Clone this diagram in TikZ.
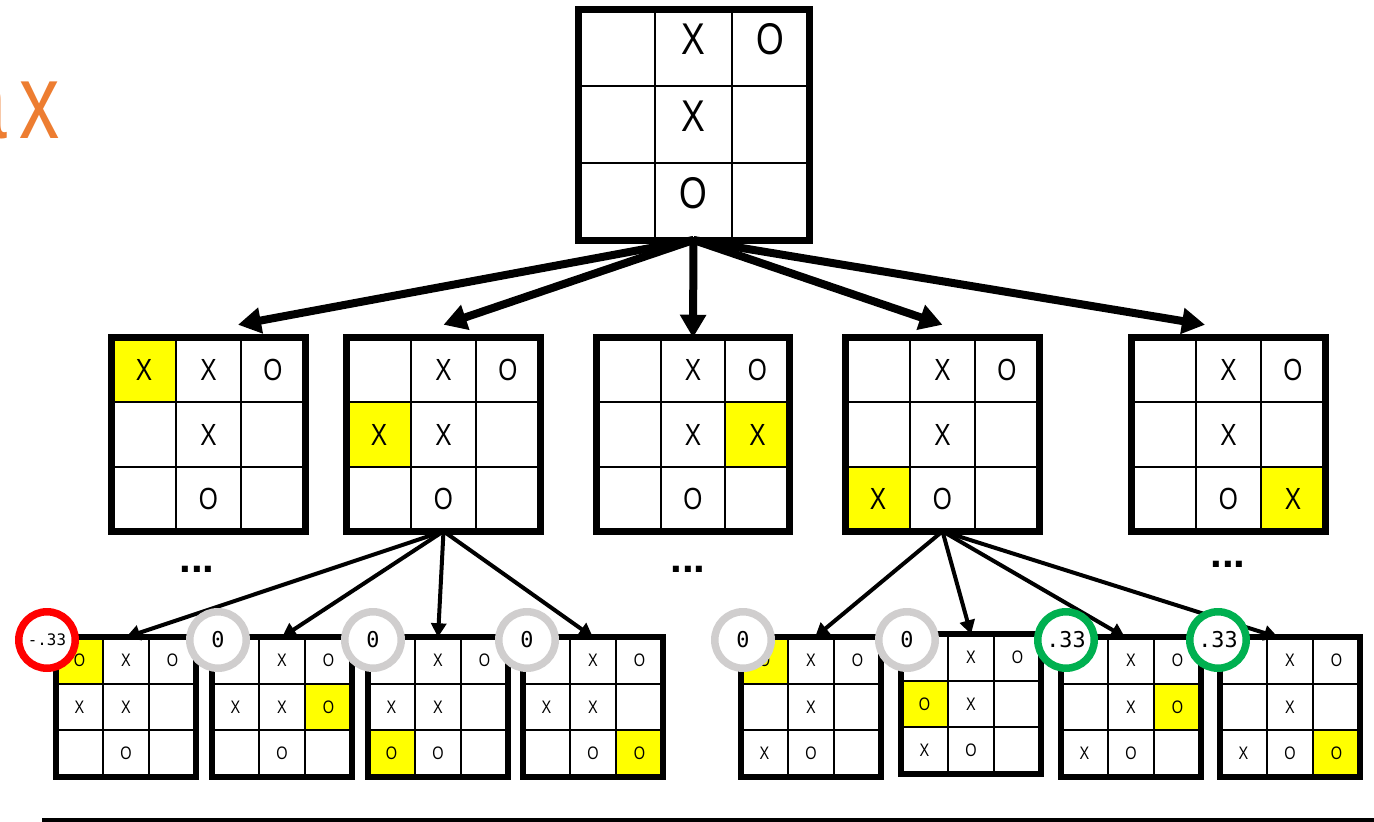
\documentclass[tikz,border=0pt]{standalone}
\usepackage{fontspec}
\setmainfont{Liberation Sans}
\newfontfamily\boardfont[FakeStretch=0.8]{Liberation Sans}
\newfontfamily\titlefont[FakeStretch=0.75]{Liberation Sans}
\newfontfamily\scorefont{DejaVu Sans Mono}
\usetikzlibrary{arrows.meta}
\definecolor{hlyellow}{HTML}{FFFF00}
\definecolor{titleorange}{HTML}{ED7D31}
\definecolor{lossred}{HTML}{FF0000}
\definecolor{drawgray}{HTML}{D0CECE}
\definecolor{wingreen}{HTML}{00B050}

% #1 name, #2 centre, #3 cell (px), #4 cell style, #5 frame style, #6 col/row/mark/style
\newcommand{\tttboard}[6]{%
	\begin{scope}[shift={(#2)}, scale=#3]
		\foreach \c/\r/\m/\s in {#6}
			\node[#4, \s] at (\c,\r) {\m};
		\draw[gridline] (-1.5,-0.5) -- (1.5,-0.5) (-1.5,0.5) -- (1.5,0.5)
			(-0.5,-1.5) -- (-0.5,1.5) (0.5,-1.5) -- (0.5,1.5);
	\end{scope}
	\node[#5, minimum size=3*#3*0.02cm] (#1) at (#2) {};
}

\begin{document}
\begin{tikzpicture}[x=0.02cm, y=-0.02cm,
	hl/.style={fill=hlyellow}, nohl/.style={},
	cellbig/.style={minimum size=1.54cm, inner sep=0pt, yshift=0.16cm, font=\boardfont\fontsize{25.3}{30}\selectfont},
	cellmid/.style={minimum size=1.29cm, inner sep=0pt, font=\boardfont\fontsize{17.4}{21}\selectfont},
	cellsmall/.style={minimum size=0.93cm, inner sep=0pt, font=\boardfont\fontsize{10.3}{12}\selectfont},
	gridline/.style={line width=0.04cm},
	frame/.style={draw, line width=0.14cm, inner sep=0pt, outer sep=0pt},
	smallframe/.style={draw, line width=0.12cm, inner sep=0pt, outer sep=0pt},
	toparrow/.style={line width=0.16cm, -{Triangle[length=0.46cm, width=0.5cm]}},
	subarrow/.style={line width=0.08cm, -{Triangle[length=0.28cm, width=0.3cm]}},
	dots/.style={anchor=base, font=\bfseries\fontsize{24}{28}\selectfont},
	score/.style={circle, draw=#1, line width=0.15cm, fill=white, minimum size=1.13cm, inner sep=0pt,
		font=\scorefont\fontsize{12.4}{14}\selectfont},
	edgetext/.style={anchor=base east, font=\fontsize{26}{30}\selectfont}]
	\useasboundingbox (0,0) rectangle (1374,822);
	\node[anchor=base east, inner sep=0pt, text=titleorange, font=\titlefont\fontsize{61}{70}\selectfont] (title) at (60,138) {a\kern0.24cm x};
	\node[edgetext] (edge-n) at (7,432) {n};
	\node[edgetext] (edge-o) at (6,699) {o};
	%%%%%%%%%%%%%
	\tttboard{top}{693.5,124.5}{77}{cellbig}{frame}{0/-1/X/nohl, 1/-1/O/nohl, 0/0/X/nohl, 0/1/O/nohl}
	\tttboard{m1}{208.5,434.5}{64.5}{cellmid}{frame}{-1/-1/X/hl, 0/-1/X/nohl, 1/-1/O/nohl, 0/0/X/nohl, 0/1/O/nohl}
	\tttboard{m2}{443.5,434.5}{64.5}{cellmid}{frame}{0/-1/X/nohl, 1/-1/O/nohl, -1/0/X/hl, 0/0/X/nohl, 0/1/O/nohl}
	\tttboard{m3}{693,434.5}{64.5}{cellmid}{frame}{0/-1/X/nohl, 1/-1/O/nohl, 0/0/X/nohl, 1/0/X/hl, 0/1/O/nohl}
	\tttboard{m4}{942.5,434.5}{64.5}{cellmid}{frame}{0/-1/X/nohl, 1/-1/O/nohl, 0/0/X/nohl, -1/1/X/hl, 0/1/O/nohl}
	\tttboard{m5}{1228.5,434.5}{64.5}{cellmid}{frame}{0/-1/X/nohl, 1/-1/O/nohl, 0/0/X/nohl, 0/1/O/nohl, 1/1/X/hl}
	%%%%%%%%%%%%%
	\tttboard{b1}{126,707}{46.5}{cellsmall}{smallframe}{-1/-1/O/hl, 0/-1/X/nohl, 1/-1/O/nohl, -1/0/X/nohl, 0/0/X/nohl, 0/1/O/nohl}
	\tttboard{b2}{282,707}{46.5}{cellsmall}{smallframe}{0/-1/X/nohl, 1/-1/O/nohl, -1/0/X/nohl, 0/0/X/nohl, 1/0/O/hl, 0/1/O/nohl}
	\tttboard{b3}{438,707}{46.5}{cellsmall}{smallframe}{0/-1/X/nohl, 1/-1/O/nohl, -1/0/X/nohl, 0/0/X/nohl, -1/1/O/hl, 0/1/O/nohl}
	\tttboard{b4}{593,707}{46.5}{cellsmall}{smallframe}{0/-1/X/nohl, 1/-1/O/nohl, -1/0/X/nohl, 0/0/X/nohl, 0/1/O/nohl, 1/1/O/hl}
	\tttboard{b5}{811,707}{46.5}{cellsmall}{smallframe}{-1/-1/O/hl, 0/-1/X/nohl, 1/-1/O/nohl, 0/0/X/nohl, -1/1/X/nohl, 0/1/O/nohl}
	\tttboard{b6}{971,704}{46.5}{cellsmall}{smallframe}{0/-1/X/nohl, 1/-1/O/nohl, -1/0/O/hl, 0/0/X/nohl, -1/1/X/nohl, 0/1/O/nohl}
	\tttboard{b7}{1131,707}{46.5}{cellsmall}{smallframe}{0/-1/X/nohl, 1/-1/O/nohl, 0/0/X/nohl, 1/0/O/hl, -1/1/X/nohl, 0/1/O/nohl}
	\tttboard{b8}{1290,707}{46.5}{cellsmall}{smallframe}{0/-1/X/nohl, 1/-1/O/nohl, 0/0/X/nohl, -1/1/X/nohl, 0/1/O/nohl, 1/1/O/hl}
	\node[dots] (more1) at (197,572) {...};
	\node[dots] (more3) at (688,572) {...};
	\node[dots] (more5) at (1228,567) {...};
	%%%%%%%%%%%%%
	\draw[toparrow] (top.south) -- ([xshift=0.59cm, yshift=0.26cm]m1.north);
	\draw[toparrow] (top.south) -- ([yshift=0.26cm]m2.north);
	\draw[toparrow] (top.south) -- (m3.north);
	\draw[toparrow] (top.south) -- ([yshift=0.26cm]m4.north);
	\draw[toparrow] (top.south) -- ([xshift=-0.47cm, yshift=0.26cm]m5.north);
	\draw[subarrow] (m2.south) -- (b1.north);
	\draw[subarrow] (m2.south) -- (b2.north);
	\draw[subarrow] (m2.south) -- (b3.north);
	\draw[subarrow] (m2.south) -- (b4.north);
	\draw[subarrow] (m4.south) -- ([xshift=0.08cm]b5.north);
	\draw[subarrow] (m4.south) -- (b6.north);
	\draw[subarrow] (m4.south) -- ([xshift=-0.12cm]b7.north);
	\draw[subarrow] (m4.south) -- ([xshift=-0.24cm]b8.north);
	%%%%%%%%%%%%%
	\node[score=lossred, font=\scorefont\fontsize{9}{11}\selectfont] (s1) at (47,640) {-.33};
	\node[score=drawgray] (s2) at (218,640) {0};
	\node[score=drawgray] (s3) at (373,640) {0};
	\node[score=drawgray] (s4) at (527,640) {0};
	\node[score=drawgray] (s5) at (743,640) {0};
	\node[score=drawgray] (s6) at (907,640) {0};
	\node[score=wingreen] (s7) at (1066,640) {.33};
	\node[score=wingreen] (s8) at (1218,640) {.33};
	\draw[line width=0.08cm] (42,820) -- (1374,820);
\end{tikzpicture}
\end{document}
